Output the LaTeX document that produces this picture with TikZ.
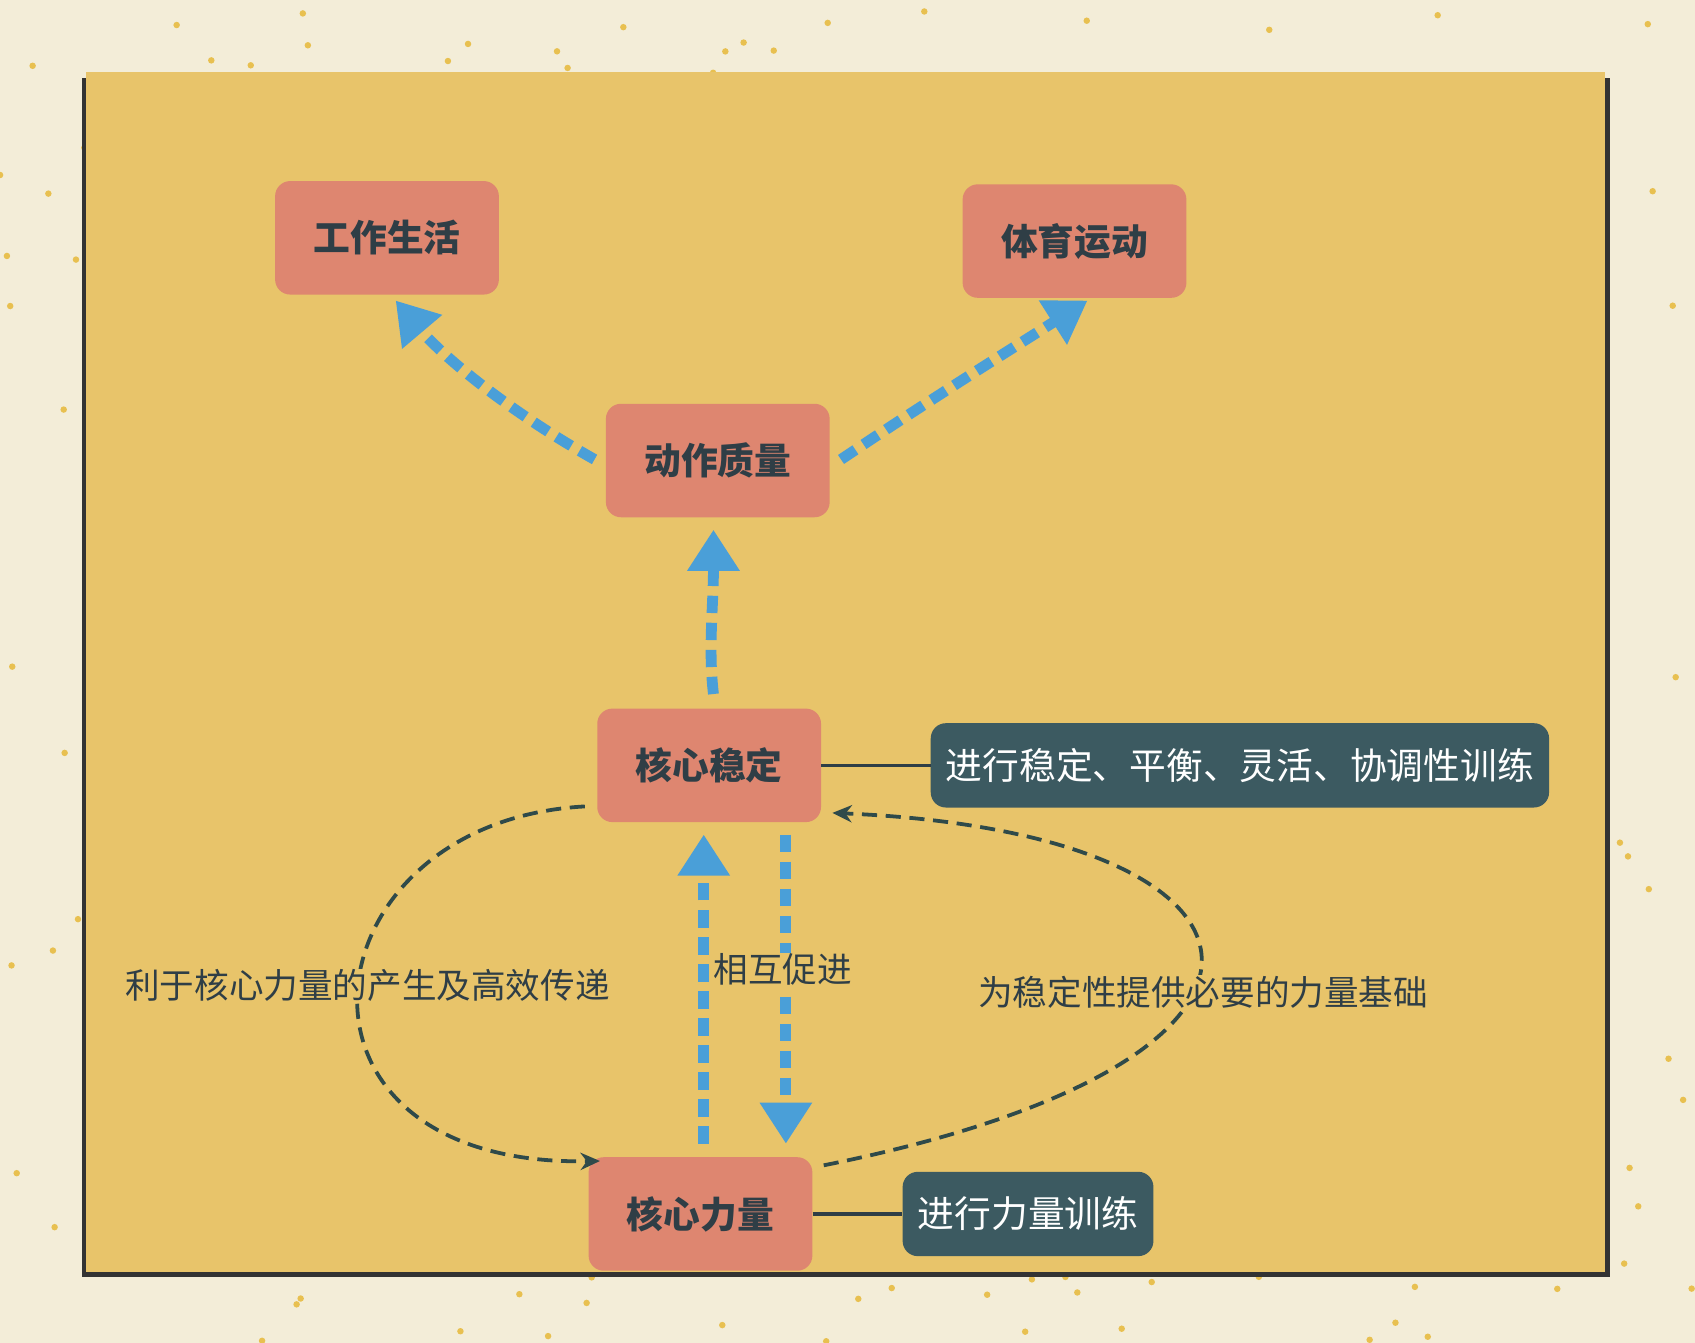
\documentclass[tikz,border=0pt]{standalone}
\usepackage{fontspec}
\setmainfont{Noto Sans CJK SC}
\usetikzlibrary{arrows.meta}
\definecolor{cream}{HTML}{F3EDD8}
\definecolor{gold}{HTML}{E8C46A}
\definecolor{dotc}{HTML}{E8C050}
\definecolor{salmon}{HTML}{DE8670}
\definecolor{teal}{HTML}{3C5A61}
\definecolor{ink}{HTML}{2F3E46}
\definecolor{blu}{HTML}{4A9FD8}
\definecolor{dk}{HTML}{2F4A4A}
\tikzset{
 mbox/.style={fill=salmon,rounded corners=14pt,minimum width=207pt,minimum height=105pt,font=\fontsize{34}{40}\selectfont\bfseries,text=ink},
 tbox/.style={fill=teal,rounded corners=14pt,minimum height=78pt,font=\fontsize{34}{40}\selectfont,text=white,inner xsep=14pt},
 barrow/.style={blu,line width=10pt,dash pattern=on 16pt off 9pt,-{Triangle[width=46pt,length=38pt]}},
 darrow/.style={dk,line width=3.5pt,dash pattern=on 14pt off 8pt,-{Stealth[width=16pt,length=18pt]}},
 lbl/.style={font=\fontsize{32}{38}\selectfont,text=ink}
}
\begin{document}
\begin{tikzpicture}[x=1pt,y=-1pt]
\fill[cream] (0,0) rectangle (1568,1242);
\useasboundingbox (0,0) rectangle (1568,1242);
\pgfmathsetseed{7}
\foreach \i in {1,...,400}{
  \pgfmathsetmacro\xx{rnd*1568}\pgfmathsetmacro\yy{rnd*1242}
  \fill[dotc] (\xx,\yy) circle (3pt);
}
\fill[black!80] (76,72) rectangle (1489,1181);
\fill[gold] (80,67) rectangle (1485,1177);
\node[mbox] (gz) at (358,220) {工作生活};
\node[mbox] (ty) at (994,223) {体育运动};
\node[mbox] (dz) at (664,426) {动作质量};
\node[mbox] (wd) at (656,708) {核心稳定};
\node[mbox] (ll) at (648,1123) {核心力量};
\node[tbox] (t1) at (1147,708) {进行稳定、平衡、灵活、协调性训练};
\node[tbox] (t2) at (951,1123) {进行力量训练};
\draw[ink,line width=3pt] (wd.east) -- (t1.west);
\draw[ink,line width=3pt] (ll.east) -- (t2.west);
\coordinate (a1) at (550,425); \coordinate (a2) at (366,278);
\draw[barrow] (a1) .. controls (470,380) and (410,330) .. (a2);
\coordinate (b1) at (778,425); \coordinate (b2) at (1006,278);
\draw[barrow] (b1) .. controls (860,370) and (940,320) .. (b2);
\coordinate (c1) at (660,642); \coordinate (c2) at (660,490);
\draw[barrow] (c1) .. controls (655,600) and (660,560) .. (c2);
\coordinate (d1) at (651,1058); \coordinate (d2) at (651,772);
\draw[barrow] (d1) -- (d2);
\coordinate (e1) at (727,772); \coordinate (e2) at (727,1058);
\draw[barrow] (e1) -- (e2);
\coordinate (f1) at (541,746); \coordinate (f2) at (555,1074);
\draw[darrow] (f1) .. controls (280,760) and (240,1080) .. (f2);
\coordinate (g1) at (762,1078); \coordinate (g2) at (770,752);
\draw[darrow] (g1) .. controls (1250,980) and (1200,770) .. (g2);
\node[lbl,fill=gold,inner sep=1pt] (l1) at (340,912) {利于核心力量的产生及高效传递};
\node[lbl,fill=gold,inner sep=1pt] (l2) at (724,897) {相互促进};
\node[lbl,fill=gold,inner sep=1pt] (l3) at (1113,918) {为稳定性提供必要的力量基础};
\end{tikzpicture}
\end{document}
